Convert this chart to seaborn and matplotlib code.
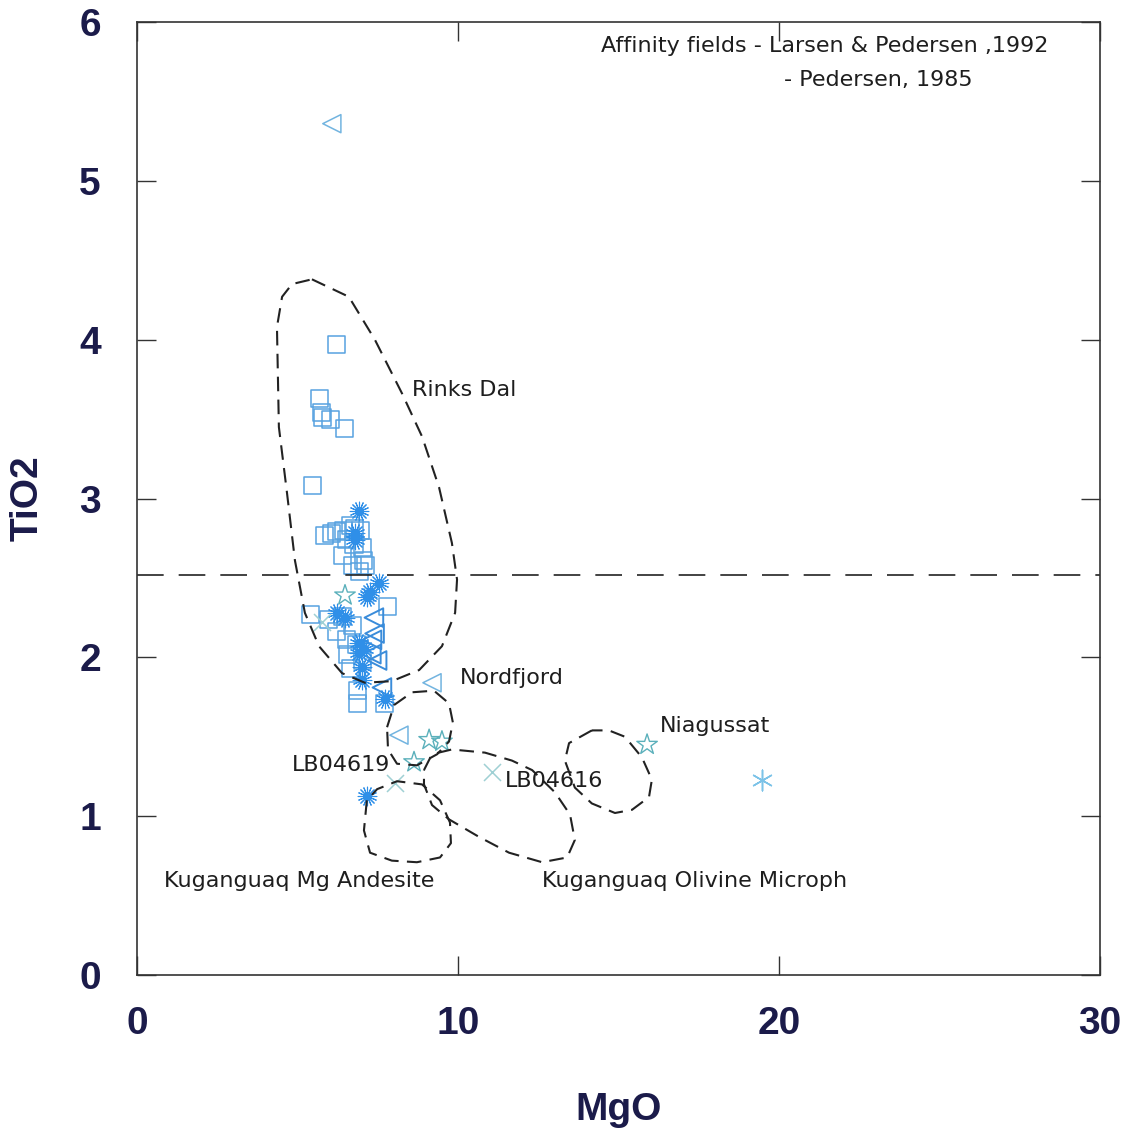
import numpy as np
import pandas as pd
import matplotlib
matplotlib.use("Agg")
import matplotlib.pyplot as plt
import seaborn as sns

# ---- sample points (MgO, TiO2) ----
sq_mgo = [6.23, 5.70, 5.76, 5.79, 6.04, 6.45, 5.48, 5.83, 6.07, 6.23, 6.42, 6.64, 6.79, 6.95,
          6.54, 6.76, 7.01, 6.39, 7.07, 6.70, 6.92, 7.13, 7.79, 5.39, 5.98, 6.39, 6.70, 6.23,
          6.54, 6.85, 6.57, 7.01, 6.64, 6.88, 6.88, 7.70]
sq_tio2 = [3.97, 3.63, 3.54, 3.51, 3.50, 3.44, 3.08, 2.77, 2.78, 2.79, 2.80, 2.83, 2.81, 2.80,
           2.74, 2.71, 2.69, 2.64, 2.61, 2.58, 2.54, 2.58, 2.32, 2.27, 2.24, 2.26, 2.20, 2.16,
           2.11, 2.08, 2.02, 1.98, 1.93, 1.79, 1.71, 1.71]

burst_mgo = [6.92, 6.79, 6.79, 7.54, 7.26, 7.17, 6.23, 6.48, 6.92, 7.07, 6.92, 7.01, 7.01, 7.73, 7.17]
burst_tio2 = [2.92, 2.78, 2.74, 2.47, 2.41, 2.38, 2.28, 2.25, 2.09, 2.05, 2.03, 1.94, 1.86, 1.74, 1.13]

tri_mgo = [7.38, 7.32, 7.48, 7.63, 7.30, 7.40]
tri_tio2 = [2.25, 2.11, 1.98, 1.81, 2.02, 2.15]
tri_lt_mgo = [6.07, 9.19, 8.16]
tri_lt_tio2 = [5.36, 1.84, 1.51]

star_mgo = [6.48, 9.10, 9.50, 8.63, 15.89]
star_tio2 = [2.39, 1.48, 1.47, 1.34, 1.45]

cross_mgo = [8.04, 11.06, 5.76]
cross_tio2 = [1.21, 1.28, 2.22]

ast_mgo = [19.47]
ast_tio2 = [1.23]

divider_tio2 = 2.52

# ---- affinity field outlines ----
rinks_x = [5.45, 6.60, 7.41, 8.26, 8.88, 9.41, 9.81, 9.97, 9.91, 9.50, 8.79, 7.94, 7.10, 6.39,
           5.67, 5.23, 4.92, 4.67, 4.42, 4.36, 4.52, 4.83]
rinks_y = [4.38, 4.27, 4.00, 3.66, 3.39, 3.07, 2.72, 2.49, 2.28, 2.07, 1.92, 1.85, 1.84, 1.90,
           2.07, 2.28, 2.61, 3.04, 3.45, 4.08, 4.27, 4.35]
nord_x = [7.79, 8.01, 8.57, 9.25, 9.72, 9.84, 9.72, 9.35, 8.72, 8.10, 7.82]
nord_y = [1.56, 1.70, 1.78, 1.79, 1.71, 1.59, 1.47, 1.39, 1.32, 1.33, 1.42]
mgand_x = [7.16, 7.07, 7.26, 7.94, 8.72, 9.44, 9.78, 9.75, 9.44, 8.88, 8.10, 7.48]
mgand_y = [1.10, 0.91, 0.77, 0.72, 0.71, 0.74, 0.83, 0.96, 1.10, 1.20, 1.22, 1.17]
oliv_x = [8.94, 9.19, 9.81, 10.84, 11.68, 12.31, 13.02, 13.49, 13.64, 13.40, 12.62, 11.59,
          10.65, 9.72, 9.19, 8.94]
oliv_y = [1.29, 1.39, 1.42, 1.40, 1.35, 1.29, 1.15, 1.01, 0.85, 0.74, 0.71, 0.77, 0.87, 0.98,
          1.07, 1.20]
niag_x = [14.17, 13.46, 13.33, 13.64, 14.17, 14.89, 15.42, 15.95, 16.04, 15.73, 15.20, 14.70]
niag_y = [1.54, 1.46, 1.35, 1.18, 1.08, 1.02, 1.04, 1.12, 1.23, 1.37, 1.50, 1.54]

field_labels = ["Rinks Dal", "Nordfjord", "Niagussat", "LB04619", "LB04616",
                "Kuganguaq Mg Andesite", "Kuganguaq Olivine Microph"]
label_x = [8.57, 10.06, 16.29, 4.83, 11.46, 0.84, 12.62]
label_y = [3.68, 1.87, 1.57, 1.32, 1.22, 0.59, 0.59]

sns.set_style("white")
plt.rcParams['font.family'] = ['DejaVu Sans']

fig = plt.figure(figsize=(11.31, 11.28), dpi=100)
ax = fig.add_axes([137 / 1131, 1 - 975 / 1128, (1100 - 137) / 1131, (975 - 22) / 1128])

# fields
for fx, fy in [(rinks_x, rinks_y), (nord_x, nord_y), (mgand_x, mgand_y),
               (oliv_x, oliv_y), (niag_x, niag_y)]:
    ax.plot(fx + fx[:1], fy + fy[:1], color="#222222", lw=1.5, ls=(0, (7, 4)),
            solid_joinstyle="round", dash_joinstyle="round")

ax.axhline(divider_tio2, color="#222222", lw=1.2, ls=(0, (16, 9)))

# points
sns.scatterplot(x=sq_mgo, y=sq_tio2, marker="s", s=150, facecolor="none",
                edgecolor="#57a2e0", linewidth=1.1, ax=ax)
sns.scatterplot(x=tri_mgo, y=tri_tio2, marker="<", s=180, facecolor="none",
                edgecolor="#3a8cda", linewidth=1.4, ax=ax)
sns.scatterplot(x=tri_lt_mgo, y=tri_lt_tio2, marker="<", s=170, facecolor="none",
                edgecolor="#72b4e0", linewidth=1.1, ax=ax)
sns.scatterplot(x=burst_mgo, y=burst_tio2, marker=(16, 2, 0), s=180,
                color="#2f8fe8", linewidth=0.8, ax=ax)
sns.scatterplot(x=star_mgo, y=star_tio2, marker="*", s=240, facecolor="none",
                edgecolor="#5bb0bb", linewidth=1.0, ax=ax)
sns.scatterplot(x=cross_mgo, y=cross_tio2, marker="x", s=150,
                color="#9fd0d4", linewidth=1.1, ax=ax)
sns.scatterplot(x=ast_mgo, y=ast_tio2, marker=(6, 2, 0), s=220,
                color="#7cc3e8", linewidth=1.1, ax=ax)

for t, lx, ly in zip(field_labels, label_x, label_y):
    ax.text(lx, ly, t, fontsize=16, color="#1e1e1e", ha="left", va="center")

ax.text(0.482, 0.975, "Affinity fields - Larsen & Pedersen ,1992", transform=ax.transAxes,
        fontsize=16, color="#1e1e1e", ha="left", va="center")
ax.text(0.672, 0.939, "- Pedersen, 1985", transform=ax.transAxes,
        fontsize=16, color="#1e1e1e", ha="left", va="center")

ax.set_xlim(0, 30)
ax.set_ylim(0, 6)
ax.set_xticks([0, 10, 20, 30])
ax.set_yticks([0, 1, 2, 3, 4, 5, 6])
ax.tick_params(direction="in", length=14, width=1.0, color="#333333",
               top=True, right=True, bottom=True, left=True,
               labelsize=28, labelcolor="#1b1b4a")
ax.tick_params(axis="x", pad=22)
ax.tick_params(axis="y", pad=26)
for lab in ax.get_xticklabels() + ax.get_yticklabels():
    lab.set_fontweight("bold")
    lab.set_family("Liberation Sans")

ax.set_xlabel("MgO", fontsize=28, fontweight="bold", color="#1b1b4a",
              family="Liberation Sans", labelpad=36)
ax.set_ylabel("TiO2", fontsize=28, fontweight="bold", color="#1b1b4a",
              family="Liberation Sans", labelpad=24)

for sp in ax.spines.values():
    sp.set_color("#333333")
    sp.set_linewidth(1.2)

fig.savefig("out.png", dpi=100, facecolor="white")
